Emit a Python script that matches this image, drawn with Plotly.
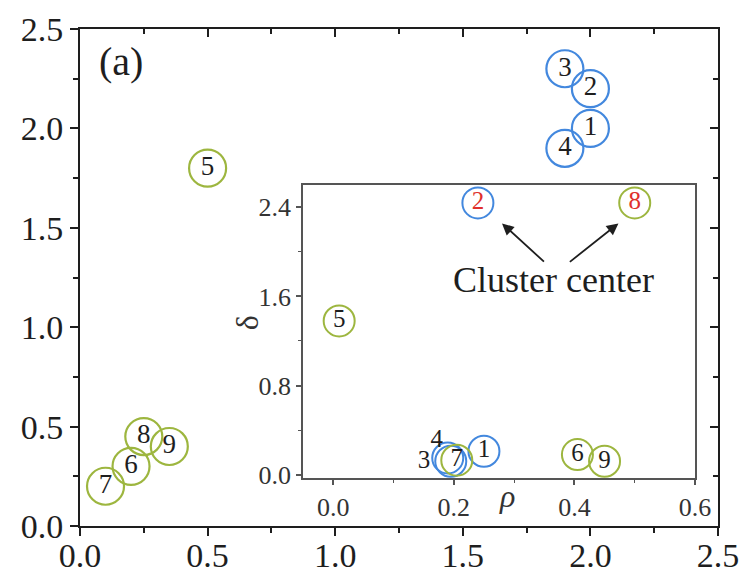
import plotly.graph_objects as go

# ---- main panel: (x, y) positions of the nine samples ----
blue_ids = ["1", "2", "3", "4"]
blue_x = [2.0, 2.0, 1.9, 1.9]
blue_y = [2.0, 2.2, 2.3, 1.9]

green_ids = ["5", "6", "7", "8", "9"]
green_x = [0.5, 0.2, 0.1, 0.25, 0.35]
green_y = [1.8, 0.3, 0.2, 0.45, 0.4]

# ---- inset: decision graph (rho, delta) ----
in_blue_ids = ["1", "2", "3", "4"]
in_blue_rho = [0.25, 0.24, 0.195, 0.19]
in_blue_delta = [0.21, 2.44, 0.12, 0.15]

in_green_ids = ["5", "6", "7", "8", "9"]
in_green_rho = [0.01, 0.405, 0.205, 0.50, 0.45]
in_green_delta = [1.38, 0.18, 0.13, 2.44, 0.12]

main_ticks = [0.0, 0.5, 1.0, 1.5, 2.0, 2.5]
inset_xticks = [0.0, 0.2, 0.4, 0.6]
inset_yticks = [0.0, 0.8, 1.6, 2.4]

BLUE = "#4388de"
GREEN = "#9db63f"
RED = "#e0302c"
INK = "#1e1e1e"
FRAME = "#555555"
SERIF = "Liberation Serif, Times New Roman, serif"

fig = go.Figure()

# main panel circles with their sample numbers
fig.add_trace(go.Scatter(
    x=blue_x, y=blue_y, text=blue_ids, mode="markers+text",
    textposition="middle center", textfont=dict(family=SERIF, size=27, color=INK),
    marker=dict(symbol="circle-open", size=37, color=BLUE, line=dict(width=2.2)),
    xaxis="x", yaxis="y", showlegend=False, cliponaxis=False))
fig.add_trace(go.Scatter(
    x=green_x, y=green_y, text=green_ids, mode="markers+text",
    textposition="middle center", textfont=dict(family=SERIF, size=27, color=INK),
    marker=dict(symbol="circle-open", size=37, color=GREEN, line=dict(width=2.2)),
    xaxis="x", yaxis="y", showlegend=False, cliponaxis=False))

# invisible trace binding the mirrored top/right axes
fig.add_trace(go.Scatter(x=[0], y=[0], mode="markers", marker=dict(opacity=0),
                         xaxis="x3", yaxis="y3", showlegend=False, hoverinfo="skip"))

# inset circles
fig.add_trace(go.Scatter(
    x=in_blue_rho, y=in_blue_delta, mode="markers",
    marker=dict(symbol="circle-open", size=31, color=BLUE, line=dict(width=2)),
    xaxis="x2", yaxis="y2", showlegend=False, cliponaxis=False))
fig.add_trace(go.Scatter(
    x=in_green_rho, y=in_green_delta, mode="markers",
    marker=dict(symbol="circle-open", size=31, color=GREEN, line=dict(width=2)),
    xaxis="x2", yaxis="y2", showlegend=False, cliponaxis=False))

# inset labels (transparent markers set the offset of side-placed labels)
in_blue_colors = [INK, RED, INK, INK]
in_blue_pos = ["middle center", "middle center", "middle left", "top left"]
in_blue_pad = [31, 31, 31, 6]
fig.add_trace(go.Scatter(
    x=in_blue_rho, y=in_blue_delta, text=in_blue_ids, mode="markers+text",
    textposition=in_blue_pos,
    marker=dict(size=in_blue_pad, opacity=0),
    textfont=dict(family=SERIF, size=25, color=in_blue_colors),
    xaxis="x2", yaxis="y2", showlegend=False, cliponaxis=False, hoverinfo="skip"))
in_green_colors = [INK, INK, INK, RED, INK]
fig.add_trace(go.Scatter(
    x=in_green_rho, y=in_green_delta, text=in_green_ids, mode="text",
    textposition="middle center",
    textfont=dict(family=SERIF, size=25, color=in_green_colors),
    xaxis="x2", yaxis="y2", showlegend=False, cliponaxis=False))

axis_common = dict(showgrid=False, zeroline=False, showline=True, linecolor=INK,
                   tickcolor=INK, automargin=False,
                   tickfont=dict(family=SERIF, size=34, color=INK))

main_minor_out = dict(dtick=0.25, tick0=0, ticks="outside", ticklen=5,
                      tickwidth=1.5, tickcolor=INK)
main_minor_in = dict(dtick=0.25, tick0=0, ticks="inside", ticklen=5,
                     tickwidth=1.5, tickcolor=INK)

fig.update_layout(
    width=746, height=572,
    margin=dict(l=80, r=28, t=29, b=46),
    paper_bgcolor="white", plot_bgcolor="white",
    xaxis=dict(**axis_common, range=[0, 2.5], tickvals=main_ticks,
               ticktext=[f"{v:.1f}" for v in main_ticks], ticks="outside",
               ticklen=8, tickwidth=2, linewidth=2, minor=main_minor_out,
               ticklabelstandoff=-10, domain=[0, 1], anchor="y"),
    yaxis=dict(**axis_common, range=[0, 2.5], tickvals=main_ticks,
               ticktext=[f"{v:.1f}" for v in main_ticks], ticks="outside",
               ticklen=8, tickwidth=2, linewidth=2, minor=main_minor_out,
               domain=[0, 1], anchor="x"),
    xaxis3=dict(showgrid=False, zeroline=False, showline=True, linecolor=INK,
                linewidth=2, range=[0, 2.5], tickvals=main_ticks, ticks="inside",
                ticklen=8, tickwidth=2, tickcolor=INK, showticklabels=False,
                automargin=False, minor=main_minor_in,
                side="top", overlaying="x", anchor="y3"),
    yaxis3=dict(showgrid=False, zeroline=False, showline=True, linecolor=INK,
                linewidth=2, range=[0, 2.5], tickvals=main_ticks, ticks="inside",
                ticklen=8, tickwidth=2, tickcolor=INK, showticklabels=False,
                automargin=False, minor=main_minor_in,
                side="right", overlaying="y", anchor="x3"),
    xaxis2=dict(showgrid=False, zeroline=False, showline=True, mirror=True,
                linecolor=FRAME, linewidth=1.5, range=[-0.05, 0.6],
                tickvals=inset_xticks, ticktext=[f"{v:.1f}" for v in inset_xticks],
                ticks="outside", ticklen=5, tickwidth=1.5, tickcolor=FRAME,
                minor=dict(dtick=0.1, tick0=0, ticks="outside", ticklen=3,
                           tickwidth=1, tickcolor=FRAME),
                tickfont=dict(family=SERIF, size=26, color="#333"), automargin=False,
                domain=[0.3495, 0.964], anchor="y2"),
    yaxis2=dict(showgrid=False, zeroline=False, showline=True, mirror=True,
                linecolor=FRAME, linewidth=1.5, range=[-0.03, 2.6],
                tickvals=inset_yticks, ticktext=[f"{v:.1f}" for v in inset_yticks],
                ticks="outside", ticklen=5, tickwidth=1.5, tickcolor=FRAME,
                minor=dict(dtick=0.4, tick0=0, ticks="outside", ticklen=3,
                           tickwidth=1, tickcolor=FRAME),
                tickfont=dict(family=SERIF, size=26, color="#333"), automargin=False,
                domain=[0.0966, 0.686], anchor="x2"),
)

# white backing so the inset reads as its own panel
fig.add_shape(type="rect", xref="x2 domain", yref="y2 domain", x0=0, x1=1, y0=0, y1=1,
              fillcolor="white", line=dict(width=0), layer="below")

annotations = [
    dict(text="(a)", x=0.027, y=0.934, xref="paper", yref="paper", showarrow=False,
         font=dict(family=SERIF, size=40, color=INK), xanchor="left", yanchor="middle"),
    dict(text="Cluster center", x=0.366, y=1.75, xref="x2", yref="y2", showarrow=False,
         font=dict(family=SERIF, size=36, color=INK)),
    dict(text="", x=0.280, y=2.256, ax=0.352, ay=1.90, xref="x2", yref="y2",
         axref="x2", ayref="y2", showarrow=True, arrowhead=2, arrowsize=1.3,
         arrowwidth=1.8, arrowcolor=INK),
    dict(text="", x=0.473, y=2.256, ax=0.39, ay=1.90, xref="x2", yref="y2",
         axref="x2", ayref="y2", showarrow=True, arrowhead=2, arrowsize=1.3,
         arrowwidth=1.8, arrowcolor=INK),
    dict(text="<i>ρ</i>", x=0.52, y=-0.13, xref="x2 domain", yref="y2 domain",
         showarrow=False, font=dict(family=SERIF, size=32, color="#333")),
    dict(text="δ", x=-0.195, y=0.53, xref="x2 domain", yref="y2 domain",
         showarrow=False, textangle=-90,
         font=dict(family=SERIF, size=32, color="#333")),
]
fig.update_layout(annotations=annotations)

fig.write_html("out.html")
